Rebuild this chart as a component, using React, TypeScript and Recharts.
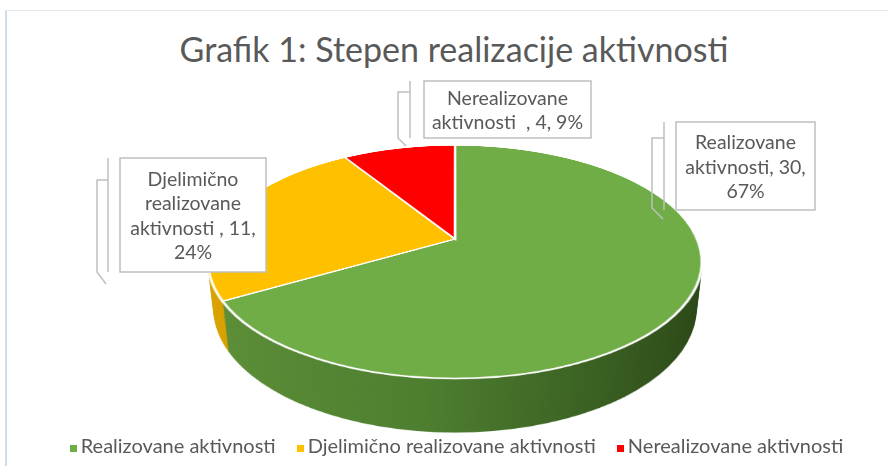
import { PieChart, Pie, Cell, Legend } from "recharts";

const categories = [
  "Realizovane aktivnosti",
  "Djelimično realizovane aktivnosti ",
  "Nerealizovane aktivnosti  ",
];
const counts = [30, 11, 4];
const topColors = ["#70ad47", "#ffc000", "#ff0000"];
const sideColors = ["url(#sideGreen)", "url(#sideYellow)", "#b00000"];
const title = "Grafik 1: Stepen realizacije aktivnosti";

const data = categories.map((name, i) => ({ name, value: counts[i] }));
const total = counts.reduce((a, b) => a + b, 0);

// flat pie tilted with css perspective, side made of stacked copies
const R = 242;
const S = 2 * R + 10;
const PCX = 455;
const PCY = 239;
const TILT = 62.4;
const PERSP = 1092;
const DEPTH = 54;
const layers = Array.from({ length: DEPTH }, (_, k) => DEPTH - k);

// label boxes (x, y, w, h), words per line, leader bracket
const labelBoxes = [
  { x: 676, y: 122, w: 139, h: 88, lines: [1, 2, 1], vx: 664, pts: "664,138 652,138 652,208 663,219" },
  { x: 120, y: 158, w: 146, h: 114, lines: [1, 1, 3, 1], vx: 108, pts: "108,180 97,180 97,272 106,284" },
  { x: 424, y: 81, w: 167, h: 57, lines: [1, 4], vx: 410, pts: "410,92 398,92 398,138 406,146" },
];

const TEXT = "#595959";
const FONT = "Lato, sans-serif";

function renderLabel(props: any) {
  const { index, name, value } = props;
  const b = labelBoxes[index];
  const pct = Math.round((value / total) * 100);
  const words = `${name}, ${value}, ${pct}%`.split(/ (?=\S)/);
  const rows: string[] = [];
  let p = 0;
  b.lines.forEach((n) => {
    rows.push(words.slice(p, p + n).join(" "));
    p += n;
  });
  const lh = 24.5;
  const cx = b.x + b.w / 2;
  const y0 = b.y + b.h / 2 - ((rows.length - 1) * lh) / 2;
  return (
    <g key={`lbl-${index}`}>
      <line x1={b.vx} y1={b.y} x2={b.vx} y2={b.y + b.h} stroke="#bfbfbf" strokeWidth={1.5} />
      <polyline points={b.pts} fill="none" stroke="#bfbfbf" strokeWidth={1.5} />
      <rect x={b.x} y={b.y} width={b.w} height={b.h} fill="#fff" stroke="#bfbfbf" strokeWidth={1.5} />
      {rows.map((r, i) => (
        <text
          key={i}
          x={cx}
          y={y0 + i * lh}
          textAnchor="middle"
          dominantBaseline="central"
          fill={TEXT}
          fontSize={19.5}
          fontFamily={FONT}
          style={{ whiteSpace: "pre" }}
        >
          {r}
        </text>
      ))}
    </g>
  );
}

function PieLayer({ depth, top }: { depth: number; top: boolean }) {
  return (
    <div
      style={{
        position: "absolute",
        left: PCX - S / 2,
        top: PCY - S / 2,
        width: S,
        height: S,
        transform: `perspective(${PERSP}px) rotateX(${TILT}deg) translateZ(${-depth}px)`,
      }}
    >
      <PieChart width={S} height={S} margin={{ top: 0, right: 0, bottom: 0, left: 0 }}>
        <defs>
          <linearGradient id="sideGreen" gradientUnits="userSpaceOnUse" x1={S / 2 - R} y1={0} x2={S / 2 + R} y2={0}>
            <stop offset="0%" stopColor="#5e9038" />
            <stop offset="45%" stopColor="#4d7e2f" />
            <stop offset="100%" stopColor="#294515" />
          </linearGradient>
          <linearGradient id="sideYellow" gradientUnits="userSpaceOnUse" x1={S / 2 - R} y1={0} x2={S / 2 + R} y2={0}>
            <stop offset="0%" stopColor="#dba400" />
            <stop offset="100%" stopColor="#a87a00" />
          </linearGradient>
        </defs>
        <Pie
          data={data}
          dataKey="value"
          nameKey="name"
          cx={S / 2}
          cy={S / 2}
          outerRadius={R}
          startAngle={90}
          endAngle={-270}
          stroke={top ? "#ffffff" : "none"}
          strokeWidth={top ? 2.5 : 0}
          isAnimationActive={false}
        >
          {data.map((d, i) => (
            <Cell key={d.name} fill={top ? topColors[i] : sideColors[i]} />
          ))}
        </Pie>
      </PieChart>
    </div>
  );
}

export default function App() {
  return (
    <div
      style={{
        position: "fixed",
        left: 0,
        top: 0,
        width: 888,
        height: 466,
        background: "#fff",
        overflow: "hidden",
        fontFamily: FONT,
      }}
    >
      <style>{`.recharts-legend-item{margin-right:21px !important}`}</style>
      <div
        style={{
          position: "absolute",
          left: 5,
          top: 10,
          width: 900,
          height: 470,
          borderLeft: "2px solid #cfdcee",
          borderTop: "1px solid #e8e8e8",
        }}
      />
      <div
        style={{
          position: "absolute",
          left: 0,
          top: 29,
          width: 908,
          textAlign: "center",
          fontSize: 34,
          color: TEXT,
          lineHeight: "40px",
        }}
      >
        {title}
      </div>

      {layers.map((k) => (
        <PieLayer key={k} depth={k} top={false} />
      ))}
      <PieLayer depth={0} top />

      <div style={{ position: "absolute", left: 0, top: 0 }}>
        <PieChart width={888} height={466}>
          <Pie
            data={data}
            dataKey="value"
            nameKey="name"
            cx={PCX}
            cy={PCY}
            outerRadius={0.01}
            startAngle={90}
            endAngle={-270}
            label={renderLabel}
            labelLine={false}
            legendType="square"
            stroke="none"
            isAnimationActive={false}
          >
            {data.map((d, i) => (
              <Cell key={d.name} fill={topColors[i]} />
            ))}
          </Pie>
          <Legend
            iconType="square"
            iconSize={7}
            itemSorter={(item: any) => categories.indexOf(item.value)}
            wrapperStyle={{ top: 433, left: 23, width: 888 }}
            formatter={(v: any) => (
              <span style={{ color: TEXT, fontSize: 20, fontFamily: FONT }}>{String(v).trim()}</span>
            )}
          />
        </PieChart>
      </div>
    </div>
  );
}
